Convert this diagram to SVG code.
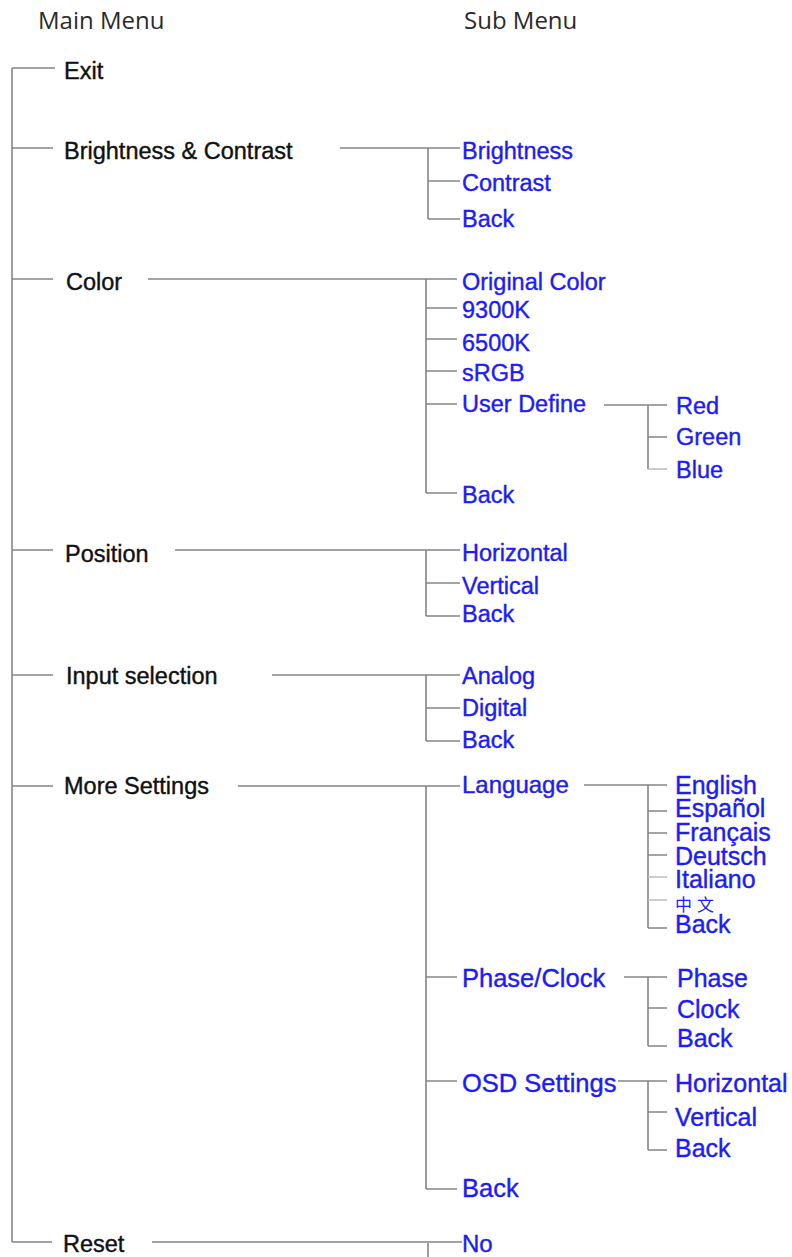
<svg xmlns="http://www.w3.org/2000/svg" width="792" height="1257" viewBox="0 0 792 1257">
<style>
.hd{font-family:"Open Sans","DejaVu Sans",sans-serif;font-size:24px;fill:#2a2a2a}
.m{font-family:"Liberation Sans",Arial,sans-serif;font-size:23.5px;fill:#111;stroke:#111;stroke-width:0.4}
.s{font-family:"Liberation Sans",Arial,sans-serif;font-size:23.5px;fill:#1d1df2;stroke:#1d1df2;stroke-width:0.4}
.b{font-size:25px}
.cjk{font-family:"Noto Sans CJK SC","Noto Sans CJK TC",sans-serif;font-size:17px;fill:#1d1df2;letter-spacing:5px}
.c path{fill:none;stroke:#858585;stroke-width:1.6}
.c path.l{stroke:#bdbdbd}
</style>
<rect width="792" height="1257" fill="#fff"/>
<g id="headers">
<text class="hd" x="38" y="29">Main Menu</text>
<text class="hd" x="464" y="29">Sub Menu</text>
</g>
<g id="connectors" class="c">
<path d="M12 68V1242M12 68H55M12 148H53M12 279H53M12 550H53M12 675H53M12 786H53M12 1242H52"/>
<path d="M340 148H460M428 148V219M428 181H460M428 219H460"/>
<path d="M148 279H457M426 279V493M426 308H457M426 339H457M426 371H457M426 404H457M426 493H457"/>
<path d="M604 405H667M648 405V469M648 437H667"/>
<path class="l" d="M648 469H667"/>
<path d="M175 550H460M426 550V616M426 583H460M426 616H460"/>
<path d="M272 675H460M426 675V741M426 708H460M426 741H460"/>
<path d="M238 786H460M426 786V1189M426 977H457M426 1081H457M426 1189H457"/>
<path d="M584 785H667M648 785V928M648 811H667M648 833H667M648 855H667M648 928H667"/>
<path class="l" d="M648 877H667M648 900H667"/>
<path d="M624 977H667M648 977V1046M648 1008H667M648 1046H667"/>
<path d="M618 1081H667M648 1081V1150M648 1112H667M648 1150H667"/>
<path d="M152 1242H462M428 1243V1257"/>
</g>
<g id="exit"><text class="m" x="64" y="79">Exit</text></g>
<g id="brightness-contrast">
<text class="m" x="64" y="159">Brightness &amp; Contrast</text>
<text class="s" x="462" y="159">Brightness</text>
<text class="s" x="462" y="191">Contrast</text>
<text class="s" x="462" y="227">Back</text>
</g>
<g id="color">
<text class="m" x="66" y="290">Color</text>
<text class="s" x="462" y="290">Original Color</text>
<text class="s" x="462" y="318">9300K</text>
<text class="s" x="462" y="351">6500K</text>
<text class="s" x="462" y="381">sRGB</text>
<text class="s" x="462" y="412">User Define</text>
<text class="s" x="676" y="414">Red</text>
<text class="s" x="676" y="445">Green</text>
<text class="s" x="676" y="478">Blue</text>
<text class="s" x="462" y="503">Back</text>
</g>
<g id="position">
<text class="m" x="65" y="562">Position</text>
<text class="s" x="462" y="561">Horizontal</text>
<text class="s" x="462" y="594">Vertical</text>
<text class="s" x="462" y="622">Back</text>
</g>
<g id="input-selection">
<text class="m" x="66" y="684">Input selection</text>
<text class="s" x="462" y="684">Analog</text>
<text class="s" x="462" y="716">Digital</text>
<text class="s" x="462" y="748">Back</text>
</g>
<g id="more-settings">
<text class="m" x="64" y="794">More Settings</text>
<text class="s" x="462" y="793" style="font-size:24px">Language</text>
<text class="s b" x="675" y="794">English</text>
<text class="s b" x="675" y="817">Español</text>
<text class="s b" x="675" y="841">Français</text>
<text class="s b" x="675" y="865">Deutsch</text>
<text class="s b" x="675" y="888">Italiano</text>
<text class="cjk" x="675" y="911">中文</text>
<text class="s b" x="675" y="933">Back</text>
<text class="s b" x="462" y="987" style="font-size:25.5px">Phase/Clock</text>
<text class="s b" x="677" y="987">Phase</text>
<text class="s b" x="677" y="1018">Clock</text>
<text class="s b" x="677" y="1047">Back</text>
<text class="s b" x="462" y="1092" style="font-size:25.5px">OSD Settings</text>
<text class="s b" x="675" y="1092">Horizontal</text>
<text class="s b" x="675" y="1126">Vertical</text>
<text class="s b" x="675" y="1157">Back</text>
<text class="s b" x="462" y="1197" style="font-size:25.5px">Back</text>
</g>
<g id="reset">
<text class="m" x="63" y="1252">Reset</text>
<text class="s" x="462" y="1252" style="font-size:24px">No</text>
</g>
</svg>
